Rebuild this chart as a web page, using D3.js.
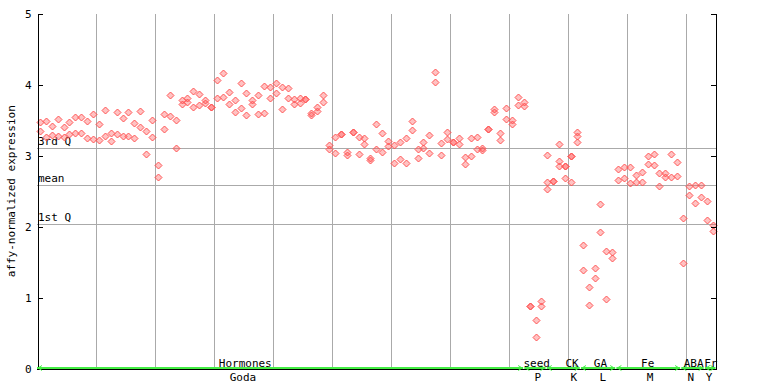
<!DOCTYPE html>
<html>
<head>
<meta charset="utf-8">
<script src="https://cdn.jsdelivr.net/npm/d3@7"></script>
<style>
  html, body { margin: 0; padding: 0; background: #fff; }
  svg { display: block; }
  text { font-family: "DejaVu Sans Mono", monospace; font-size: 11px; fill: #000; }
</style>
</head>
<body>
<svg id="chart" width="768" height="384"></svg>
<script>
// ---- data ----
// expression values per sample (index 0..114), replicates per sample
const expression = [
  [3.47,3.35],[3.49,3.26],[3.42,3.29],[3.52,3.28],[3.40,3.26],[3.48,3.30],[3.54,3.32],[3.54,3.32],[3.49,3.25],[3.59,3.24],
  [3.44,3.22],[3.64,3.28],[3.32,3.20],[3.62,3.31],[3.53,3.28],[3.62,3.28],[3.46,3.25],[3.63,3.41],[3.35,3.03],[3.50,3.27],
  [2.87,2.70],[3.59,3.38],[3.86,3.56],[3.50,3.11],[3.78,3.73],[3.81,3.76],[3.91,3.69],[3.87,3.71],[3.78,3.74],[3.69,3.69],
  [4.06,3.81],[4.16,3.83],[3.90,3.73],[3.78,3.62],[4.02,3.67],[3.88,3.57],[3.78,3.73],[3.85,3.59],[3.98,3.60],[3.97,3.81],
  [4.02,3.88],[3.97,3.66],[3.95,3.81],[3.80,3.73],[3.81,3.74],[3.80,3.80],[3.60,3.57],[3.69,3.63],[3.85,3.76],[3.15,3.09],
  [3.26,3.04],[3.31,3.31],[3.05,3.01],[3.33,3.33],[3.26,3.02],[3.25,3.16],[2.97,2.94],[3.45,3.09],[3.32,3.05],[3.21,3.13],
  [3.15,2.90],[3.19,2.95],[3.25,2.90],[3.49,3.36],[3.09,2.97],[3.19,3.11],[3.29,3.04],[4.18,4.04],[3.18,3.01],[3.33,3.23],
  [3.19,3.19],[3.25,3.16],[2.98,2.88],[3.25,3.00],[3.26,3.10],[3.11,3.08],[3.37,3.37],[3.66,3.62],[3.32,3.22],[3.67,3.52],
  [3.50,3.45],[3.83,3.71],[3.76,3.70],[0.88,0.88],[0.69,0.45],[0.96,0.89],[3.01,2.63,2.53],[2.65,2.65],[3.16,2.93,2.85],[2.85,2.85,2.69],
  [3.00,3.00,2.63],[3.33,3.28,3.19],[1.75,1.39],[1.15,0.90],[1.42,1.28],[2.32,1.93],[1.66,0.98],[1.64,1.56],[2.81,2.66],[2.84,2.69],
  [2.84,2.62],[2.73,2.63],[2.77,2.63],[3.00,2.88],[3.02,2.87],[2.76,2.57],[2.76,2.70],[3.02,2.70],[2.91,2.71],[2.12,1.49],
  [2.57,2.45],[2.59,2.33],[2.59,2.42],[2.36,2.09],[2.02,1.94]
];
const sampleCount = 115;

// reference lines
const refLabels = ["3rd Q", "mean", "1st Q"];
const refValues = [3.11, 2.59, 2.04];

// y ticks
const yTicks = [0, 1, 2, 3, 4, 5];

// category groups (sample-index ranges) and their labels
const groupNames   = ["Hormones", "seed", "CK", "GA", "Fe", "ABA", "Fr"];
const groupStart   = [0, 82.6, 86.4, 92.2, 98.2, 109.2, 113.2];
const groupEnd     = [82.4, 86.2, 92.0, 98.0, 109.0, 113.0, 115];
const groupLabelAt = [35.3, 84.7, 90.7, 95.5, 103.5, 111.3, 114.2];
const expNames     = ["Goda", "P", "K", "L", "M", "N", "Y"];
const expLabelAt   = [34.9, 84.9, 91.0, 95.9, 103.9, 110.8, 113.9];

// ---- drawing ----
const svg = d3.select("#chart");
const plotL = 37, plotR = 715.5, plotT = 13.5, plotB = 369;

const x = d3.scaleLinear().domain([0, sampleCount]).range([plotL, plotR]);
const y = d3.scaleLinear().domain([0, 5]).range([plotB, plotT]);

const crisp = v => Math.round(v) + 0.5;

// vertical grid lines every 10 samples
const vg = d3.range(10, sampleCount, 10);
svg.append("g").selectAll("line").data(vg).join("line")
  .attr("x1", d => crisp(x(d))).attr("x2", d => crisp(x(d)))
  .attr("y1", plotT).attr("y2", plotB)
  .attr("stroke", "#aaaaaa").attr("stroke-width", 1)
  .attr("shape-rendering", "crispEdges");

// reference lines
svg.append("g").selectAll("line").data(refValues).join("line")
  .attr("x1", plotL).attr("x2", plotR)
  .attr("y1", d => crisp(y(d))).attr("y2", d => crisp(y(d)))
  .attr("stroke", "#aaaaaa").attr("stroke-width", 1)
  .attr("shape-rendering", "crispEdges");
svg.append("g").selectAll("text").data(refLabels).join("text")
  .attr("x", plotL + 1)
  .attr("y", (d, i) => Math.round(y(refValues[i])) - 3)
  .text(d => d);

// points
const pts = [];
expression.forEach((vals, i) => vals.forEach(v => pts.push({ i, v })));
const diamond = "M0,-3.5L3.5,0L0,3.5L-3.5,0Z";
svg.append("g").selectAll("path").data(pts).join("path")
  .attr("d", diamond)
  .attr("transform", d => `translate(${Math.round(x(d.i + 0.5)) + 0.5},${Math.round(y(d.v)) + 0.5})`)
  .attr("fill", "rgba(255,80,80,0.35)")
  .attr("stroke", "#ff5555")
  .attr("stroke-width", 1);

// left axis
const yAxisL = d3.axisLeft(y).tickValues(yTicks).tickFormat(d3.format("d"))
  .tickSizeInner(-5).tickSizeOuter(0).tickPadding(6);
const gL = svg.append("g").attr("transform", `translate(${crisp(plotL)},0)`).call(yAxisL);
gL.select(".domain").attr("stroke", "#000").attr("shape-rendering", "crispEdges");
gL.selectAll(".tick line").attr("stroke", "#000").attr("shape-rendering", "crispEdges");
gL.selectAll(".tick text").attr("font-family", "DejaVu Sans Mono, monospace").attr("font-size", 11).attr("fill", "#000");

// right axis
const yAxisR = d3.axisRight(y).tickValues(yTicks).tickFormat("")
  .tickSizeInner(-5).tickSizeOuter(0);
const gR = svg.append("g").attr("transform", `translate(${Math.round(plotR) - 0.5},0)`).call(yAxisR);
gR.select(".domain").attr("stroke", "#000").attr("shape-rendering", "crispEdges");
gR.selectAll(".tick line").attr("stroke", "#000").attr("shape-rendering", "crispEdges");

// bottom axis line
svg.append("line")
  .attr("x1", plotL).attr("x2", plotR)
  .attr("y1", plotB + 0.5).attr("y2", plotB + 0.5)
  .attr("stroke", "#000").attr("shape-rendering", "crispEdges");

// green group ranges with arrow heads
const green = "#44ee44";
const gG = svg.append("g");
groupNames.forEach((name, k) => {
  const xa = x(groupStart[k]), xb = x(groupEnd[k]);
  const yy = plotB - 1;
  gG.append("line").attr("x1", xa).attr("x2", xb).attr("y1", yy).attr("y2", yy)
    .attr("stroke", green).attr("stroke-width", 2);
  gG.append("path").attr("d", `M${xa + 5},${yy - 2.5}L${xa + 1},${yy}L${xa + 5},${yy + 2.5}`)
    .attr("fill", "none").attr("stroke", green).attr("stroke-width", 1);
  gG.append("path").attr("d", `M${xb - 5},${yy - 2.5}L${xb - 1},${yy}L${xb - 5},${yy + 2.5}`)
    .attr("fill", "none").attr("stroke", green).attr("stroke-width", 1);
});

// group labels
svg.append("g").selectAll("text").data(groupNames).join("text")
  .attr("x", (d, k) => x(groupLabelAt[k]))
  .attr("y", 366.5)
  .attr("text-anchor", "middle")
  .text(d => d);
svg.append("g").selectAll("text").data(expNames).join("text")
  .attr("x", (d, k) => x(expLabelAt[k]))
  .attr("y", 380.5)
  .attr("text-anchor", "middle")
  .text(d => d);

// y axis title
svg.append("text")
  .attr("transform", `translate(15,${(plotT + plotB) / 2}) rotate(-90)`)
  .attr("text-anchor", "middle")
  .attr("font-size", 11.5)
  .text("affy-normalized expression");
</script>
</body>
</html>
